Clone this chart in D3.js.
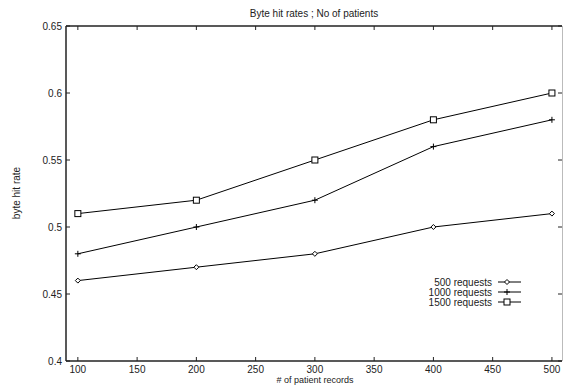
<!DOCTYPE html>
<html><head><meta charset="utf-8">
<script src="https://cdn.jsdelivr.net/npm/d3@7"></script>
<style>body{margin:0;background:#fff}svg{display:block;font-family:"Liberation Sans",Arial,sans-serif}</style>
</head><body><svg id="c" width="564" height="385"></svg>
<script>
const xValues = [100, 200, 300, 400, 500];
const s500 = [0.46, 0.47, 0.48, 0.50, 0.51];
const s1000 = [0.48, 0.50, 0.52, 0.56, 0.58];
const s1500 = [0.51, 0.52, 0.55, 0.58, 0.60];
const seriesNames = ["500 requests", "1000 requests", "1500 requests"];
const xTicks = [100, 150, 200, 250, 300, 350, 400, 450, 500];
const yTicks = [0.4, 0.45, 0.5, 0.55, 0.6, 0.65];
const series = [
  {name: seriesNames[0], values: s500, marker: "diamond"},
  {name: seriesNames[1], values: s1000, marker: "plus"},
  {name: seriesNames[2], values: s1500, marker: "square"}
];
const svg = d3.select("#c");
const L = 66, R = 562, T = 26, B = 361;
const x = d3.scaleLinear().domain([90, 508.5]).range([L, R]);
const y = d3.scaleLinear().domain([0.4, 0.65]).range([B, T]);
const ax = "#222";

// frame
svg.append("line").attr("x1", L).attr("x2", R).attr("y1", T).attr("y2", T).attr("stroke", ax).attr("stroke-width", 1.5);
svg.append("line").attr("x1", L).attr("x2", R).attr("y1", B).attr("y2", B).attr("stroke", ax).attr("stroke-width", 1.5);
svg.append("line").attr("x1", L).attr("x2", L).attr("y1", T).attr("y2", B).attr("stroke", ax).attr("stroke-width", 1.5);
svg.append("line").attr("x1", R+0.5).attr("x2", R+0.5).attr("y1", T).attr("y2", B).attr("stroke", "#bbb").attr("stroke-width", 1);

const fmtY = d => d3.format("")(+d.toFixed(2));
// y ticks
yTicks.forEach(v => {
  svg.append("line").attr("x1", L).attr("x2", L+4).attr("y1", y(v)).attr("y2", y(v)).attr("stroke", ax);
  svg.append("line").attr("x1", R-4).attr("x2", R).attr("y1", y(v)).attr("y2", y(v)).attr("stroke", ax);
  svg.append("text").attr("x", L-4).attr("y", y(v)+3.5).attr("text-anchor", "end").attr("font-size", 10).attr("fill", "#222").text(fmtY(v));
});
xTicks.forEach(v => {
  svg.append("line").attr("x1", x(v)).attr("x2", x(v)).attr("y1", B).attr("y2", B-4).attr("stroke", ax);
  svg.append("line").attr("x1", x(v)).attr("x2", x(v)).attr("y1", T).attr("y2", T+4).attr("stroke", ax);
  svg.append("text").attr("x", x(v)).attr("y", 372.5).attr("text-anchor", "middle").attr("font-size", 10).attr("fill", "#222").text(v);
});

svg.append("text").attr("x", 314).attr("y", 17).attr("text-anchor", "middle").attr("font-size", 10).attr("fill", "#222").text("Byte hit rates ; No of patients");
svg.append("text").attr("x", 315).attr("y", 383.3).attr("text-anchor", "middle").attr("font-size", 9).attr("fill", "#222").text("# of patient records");
svg.append("text").attr("transform", "translate(20,193) rotate(-90)").attr("text-anchor", "middle").attr("font-size", 10).attr("fill", "#222").text("byte hit rate");

function marker(g, type, cx, cy) {
  if (type === "diamond") {
    g.append("path").attr("d", `M${cx},${cy-2.5}L${cx+2.5},${cy}L${cx},${cy+2.5}L${cx-2.5},${cy}Z`).attr("fill", "#fff").attr("stroke", "#000").attr("stroke-width", 1);
  } else if (type === "plus") {
    g.append("path").attr("d", `M${cx-3},${cy}H${cx+3}M${cx},${cy-3}V${cy+3}`).attr("stroke", "#000").attr("stroke-width", 1);
  } else {
    g.append("rect").attr("x", cx-3).attr("y", cy-3).attr("width", 6).attr("height", 6).attr("fill", "#fff").attr("stroke", "#000").attr("stroke-width", 1);
  }
}

const line = d3.line().x((d, i) => x(xValues[i])).y(d => y(d));
series.forEach(s => {
  svg.append("path").attr("d", line(s.values)).attr("fill", "none").attr("stroke", "#000").attr("stroke-width", 1);
  const g = svg.append("g");
  s.values.forEach((v, i) => marker(g, s.marker, x(xValues[i]), y(v)));
});

// legend
const legY = [282, 292, 302];
series.forEach((s, i) => {
  svg.append("text").attr("x", 492).attr("y", legY[i]+3.5).attr("text-anchor", "end").attr("font-size", 10).attr("fill", "#222").text(s.name);
  svg.append("line").attr("x1", 498).attr("x2", 521).attr("y1", legY[i]).attr("y2", legY[i]).attr("stroke", "#000");
  marker(svg, s.marker, 507, legY[i]);
});
</script></body></html>
